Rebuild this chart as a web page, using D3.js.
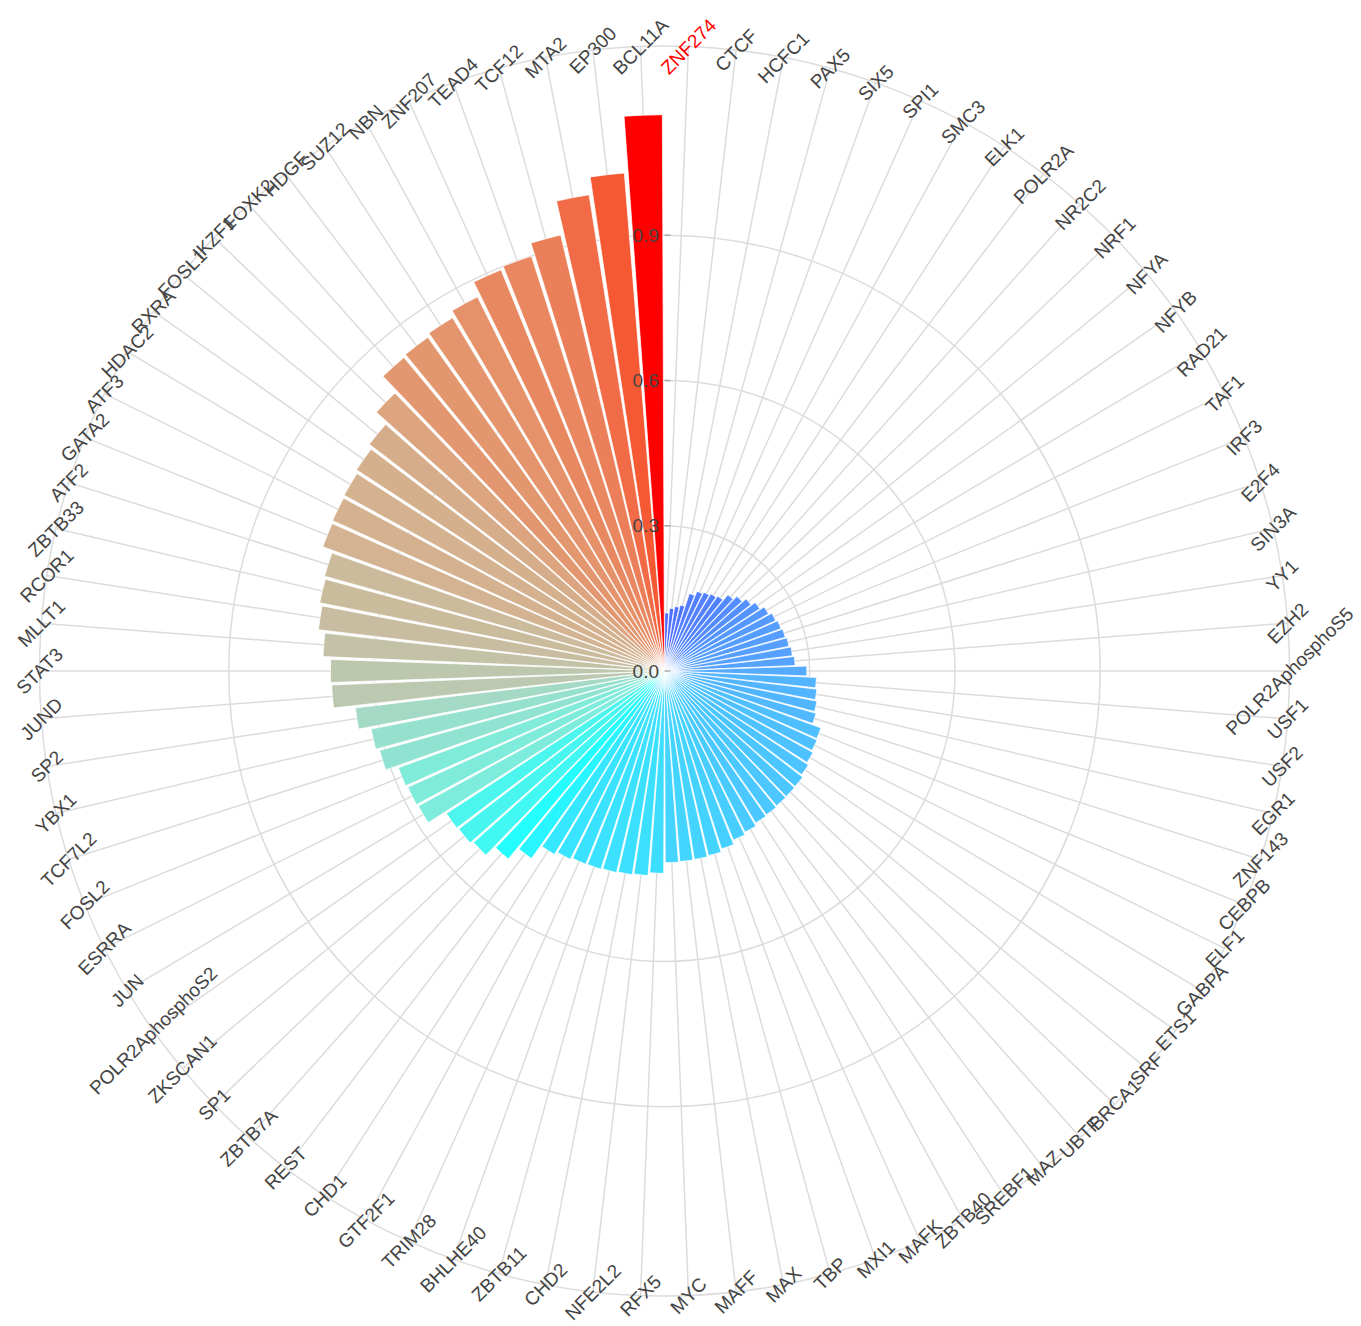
<!DOCTYPE html>
<html lang="en">
<head>
<meta charset="UTF-8" />
<title>Polar bar scores</title>
<script src="https://d3js.org/d3.v7.min.js"></script>
<style>
  body { margin: 0; background: #fff; }
  svg { display: block; font-family: "Liberation Sans", Arial, sans-serif; }
  .grid { fill: none; stroke: #dcdcdc; stroke-width: 1.5px; }
  .label { fill: #444; font-size: 19px; }
</style>
</head>
<body>
<svg id="chart" width="1361" height="1326"></svg>
<script>
// categories, clockwise from the top
const factors = [
  "ZNF274", "CTCF", "HCFC1", "PAX5", "SIX5", "SPI1", "SMC3", "ELK1", "POLR2A", "NR2C2",
  "NRF1", "NFYA", "NFYB", "RAD21", "TAF1", "IRF3", "E2F4", "SIN3A", "YY1", "EZH2",
  "POLR2AphosphoS5", "USF1", "USF2", "EGR1", "ZNF143", "CEBPB", "ELF1", "GABPA", "ETS1", "SRF",
  "BRCA1", "UBTF", "MAZ", "SREBF1", "ZBTB40", "MAFK", "MXI1", "TBP", "MAX", "MAFF",
  "MYC", "RFX5", "NFE2L2", "CHD2", "ZBTB11", "BHLHE40", "TRIM28", "GTF2F1", "CHD1", "REST",
  "ZBTB7A", "SP1", "ZKSCAN1", "POLR2AphosphoS2", "JUN", "ESRRA", "FOSL2", "TCF7L2", "YBX1", "SP2",
  "JUND", "STAT3", "MLLT1", "RCOR1", "ZBTB33", "ATF2", "GATA2", "ATF3", "HDAC2", "RXRA",
  "FOSL1", "IKZF1", "FOXK2", "HDGF", "SUZ12", "NBN", "ZNF207", "TEAD4", "TCF12", "MTA2",
  "EP300", "BCL11A"
];

const scores = [
  0.120, 0.130, 0.135, 0.140, 0.168, 0.178, 0.182, 0.186, 0.190, 0.205,
  0.215, 0.225, 0.235, 0.245, 0.252, 0.256, 0.259, 0.262, 0.266, 0.270,
  0.294, 0.314, 0.317, 0.321, 0.325, 0.344, 0.346, 0.350, 0.355, 0.360,
  0.361, 0.362, 0.364, 0.366, 0.372, 0.377, 0.386, 0.392, 0.394, 0.395,
  0.396, 0.418, 0.424, 0.426, 0.428, 0.430, 0.431, 0.435, 0.442, 0.475,
  0.505, 0.530, 0.536, 0.538, 0.580, 0.582, 0.585, 0.611, 0.618, 0.643,
  0.688, 0.690, 0.706, 0.720, 0.726, 0.729, 0.751, 0.753, 0.755, 0.760,
  0.769, 0.800, 0.842, 0.845, 0.851, 0.864, 0.895, 0.900, 0.926, 0.996,
  1.032, 1.149
];

const radialTicks = [0, 0.3, 0.6, 0.9];
const highlighted = "ZNF274";

const data = factors.map((f, i) => ({ factor: f, score: scores[i] }));

const svg = d3.select("#chart");
const cx = 664.5, cy = 671, outer = 625;
const rMax = 1.291;

const x = d3.scaleBand()
  .domain(factors)
  .range([0, 2 * Math.PI])
  .paddingInner(0.1)
  .paddingOuter(0.05);

const y = d3.scaleLinear().domain([0, rMax]).range([0, outer]);

// colour follows the score
const color = d3.scaleLinear()
  .domain([0.12, 0.19, 0.27, 0.31, 0.36, 0.40, 0.43, 0.50, 0.58, 0.64, 0.69, 0.75, 0.85, 1.00, 1.03, 1.149])
  .range(["#4f6cff", "#5283ff", "#56a2ff", "#54b2ff", "#4cc6ff", "#42d6ff", "#3ae2ff", "#1effff",
          "#7eecdc", "#a2dac6", "#bdc7ae", "#d3b391", "#e4956d", "#f06a45", "#f55b35", "#ff0000"])
  .clamp(true);

const g = svg.append("g").attr("transform", `translate(${cx},${cy})`);

const mid = f => x(f) + x.bandwidth() / 2;

// grid
g.append("g").selectAll("line")
  .data(factors)
  .join("line")
  .attr("class", "grid")
  .attr("x1", 0).attr("y1", 0)
  .attr("x2", f => outer * Math.sin(mid(f)))
  .attr("y2", f => -outer * Math.cos(mid(f)));

g.append("g").selectAll("circle")
  .data(radialTicks.filter(t => t > 0))
  .join("circle")
  .attr("class", "grid")
  .attr("r", d => y(d));

g.append("circle").attr("class", "grid").attr("r", outer);

// bars
const arc = d3.arc()
  .innerRadius(0)
  .outerRadius(d => y(d.score))
  .startAngle(d => x(d.factor))
  .endAngle(d => x(d.factor) + x.bandwidth());

g.append("g").selectAll("path")
  .data(data)
  .join("path")
  .attr("d", arc)
  .attr("fill", d => color(d.score))
  .attr("stroke", "#fff")
  .attr("stroke-width", 0.75);

// angular labels, all turned 45 degrees
g.append("g").selectAll("text")
  .data(factors)
  .join("text")
  .attr("class", "label")
  .attr("text-anchor", "middle")
  .attr("dy", "0.35em")
  .attr("transform", f => {
    const px = outer * Math.sin(mid(f)), py = -outer * Math.cos(mid(f));
    return `translate(${px},${py}) rotate(-45)`;
  })
  .style("fill", f => f === highlighted ? "#ff0000" : null)
  .text(f => f);

// radial axis ticks and labels
const rt = g.append("g");
rt.selectAll("line")
  .data(radialTicks)
  .join("line")
  .attr("x1", 0).attr("x2", 6)
  .attr("y1", d => -y(d)).attr("y2", d => -y(d))
  .attr("stroke", "#aaa")
  .attr("stroke-width", 1.5);

rt.selectAll("text")
  .data(radialTicks)
  .join("text")
  .attr("class", "label")
  .attr("text-anchor", "end")
  .attr("x", -5.5)
  .attr("y", d => -y(d))
  .attr("dy", "0.35em")
  .text(d => d.toFixed(1));
</script>
</body>
</html>
